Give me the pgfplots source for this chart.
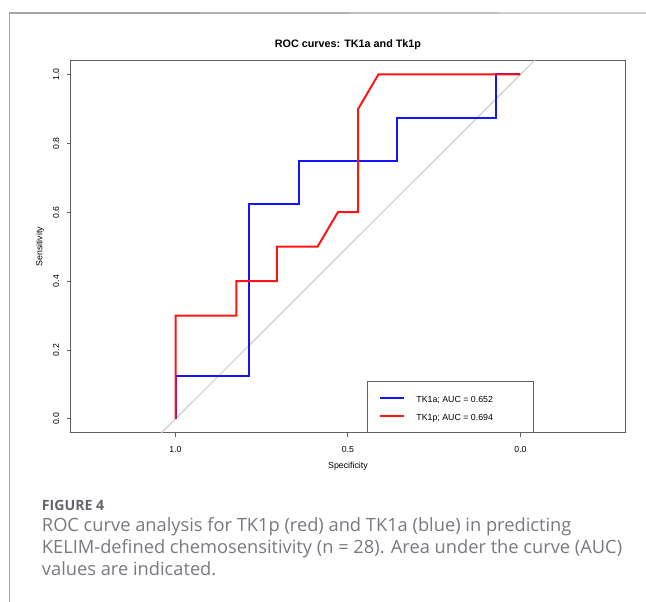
\documentclass[border=0pt]{standalone}
\usepackage{pgfplots}
\pgfplotsset{compat=1.18}
\usepackage{fontspec}
\setmainfont{Liberation Sans}
\newfontfamily\capfont{Open Sans}
\definecolor{capgray}{RGB}{120,120,128}
\definecolor{figgray}{RGB}{100,100,110}
\definecolor{framegray}{RGB}{165,165,165}
\definecolor{axgray}{RGB}{95,95,95}
\definecolor{diaggray}{RGB}{200,200,200}
\definecolor{rocblue}{RGB}{20,20,255}
\definecolor{rocred}{RGB}{255,20,20}

\begin{document}
\begin{tikzpicture}[x=0.75pt,y=0.75pt]
\path[use as bounding box] (0,0) rectangle (646,602);
% outer frame of the figure panel (top rule fades to the right)
\draw[framegray, line width=1.1pt] (9.3,0) -- (9.3,589.6);
\draw[framegray, line width=1.3pt] (8.6,589) -- (200,589);
\draw[framegray!85, line width=1.3pt] (200,589) -- (350,589);
\draw[framegray!70, line width=1.3pt] (350,589) -- (500,589);
\draw[framegray!55, line width=1.3pt] (500,589) -- (646,589);

\begin{axis}[
  at={(53.25pt,126.975pt)}, anchor=south west,
  scale only axis, width=415.5pt, height=279pt,
  x dir=reverse,
  xmin=-0.303, xmax=1.303, ymin=-0.04, ymax=1.04,
  xtick={0,0.5,1}, ytick={0,0.2,0.4,0.6,0.8,1},
  xticklabels={0.0,0.5,1.0},
  yticklabels={0.0,0.2,0.4,0.6,0.8,1.0},
  tick pos=left, tick align=outside, major tick length=3pt,
  axis line style={axgray, line width=0.75pt},
  tick style={axgray, line width=0.75pt},
  ticklabel style={font=\fontsize{6.5}{7}\selectfont},
  xticklabel style={anchor=north, inner sep=0pt, yshift=-7pt},
  yticklabel style={xshift=-5.6pt, rotate=90, anchor=south, inner sep=0pt},
  title={ROC curves: TK1a and Tk1p},
  every axis title/.style={at={(axis description cs:0.5,1)}, yshift=11.8pt, anchor=center, font=\bfseries\fontsize{8.1}{9}\selectfont},
  xlabel={Specificity},
  ylabel={Sensitivity},
  every axis x label/.style={at={(axis description cs:0.5,0)}, yshift=-25pt, anchor=center, font=\fontsize{6.6}{7}\selectfont},
  every axis y label/.style={at={(axis description cs:0,0.5)}, xshift=-23.25pt, rotate=90, anchor=center, font=\fontsize{6.6}{7}\selectfont},
  legend style={at={(axis cs:-0.0386,-0.04)}, anchor=south east, draw=axgray, fill=white,
    inner xsep=8.8pt, inner ysep=8.5pt, row sep=6.3pt,
    font=\fontsize{6.6}{7.5}\selectfont,
    nodes={inner sep=0pt, text height=7pt, text depth=0.5pt},
    /tikz/every odd column/.append style={column sep=8.8pt}},
  legend cell align=left,
  legend image code/.code={\draw[#1] (0pt,0pt) -- (18pt,0pt);},
]
% chance diagonal
\addplot[color=diaggray, line width=0.75pt, forget plot] coordinates {(1.2,-0.2) (-0.2,1.2)};

% TK1a
\addplot[color=rocblue, line width=1.5pt] coordinates {
  (1,0) (1,0.125) (0.7857,0.125) (0.7857,0.625) (0.6429,0.625) (0.6429,0.75)
  (0.3571,0.75) (0.3571,0.875) (0.0714,0.875) (0.0714,1) (0,1)
};
\addlegendentry{\makebox[79pt][l]{TK1a; AUC = 0.652}}

% TK1p
\addplot[color=rocred, line width=1.5pt] coordinates {
  (1,0) (1,0.3) (0.8235,0.3) (0.8235,0.4) (0.7059,0.4) (0.7059,0.5)
  (0.5882,0.5) (0.5294,0.6) (0.4706,0.6) (0.4706,0.9) (0.4118,1) (0,1)
};
\addlegendentry{\makebox[79pt][l]{TK1p; AUC = 0.694}}
\end{axis}

% caption
\node[anchor=base west, inner sep=0pt, text=figgray, font=\capfont\bfseries\fontsize{10.6}{12}\selectfont] at (41.7,91) {FIGURE 4};
\node[anchor=base west, inner sep=0pt, text=capgray, font=\capfont\fontsize{13.7}{15}\selectfont] at (41.7,70.3) {ROC curve analysis for TK1p (red) and TK1a (blue) in predicting};
\node[anchor=base west, inner sep=0pt, text=capgray, font=\capfont\fontsize{13.7}{15}\selectfont] at (41.7,48.7) {KELIM-defined chemosensitivity (n = 28). Area under the curve (AUC)};
\node[anchor=base west, inner sep=0pt, text=capgray, font=\capfont\fontsize{13.7}{15}\selectfont] at (41.7,26.5) {values are indicated.};
\end{tikzpicture}
\end{document}
